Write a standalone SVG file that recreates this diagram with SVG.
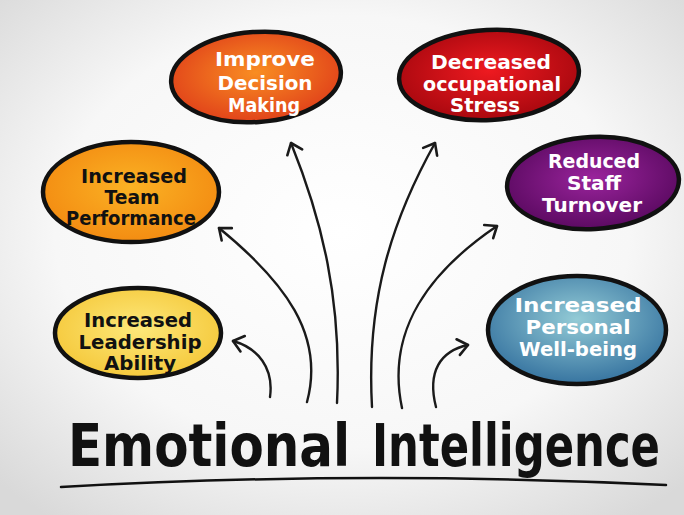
<svg xmlns="http://www.w3.org/2000/svg" width="684" height="515" viewBox="0 0 684 515">
<defs>
<radialGradient id="bg" cx="50%" cy="45%" r="70%">
<stop offset="0" stop-color="#ffffff"/><stop offset="0.6" stop-color="#f7f7f7"/><stop offset="1" stop-color="#d9d9d9"/>
</radialGradient>
<radialGradient id="gOrange" cx="50%" cy="45%" r="55%"><stop offset="0" stop-color="#f98d22"/><stop offset="1" stop-color="#e1431a"/></radialGradient>
<radialGradient id="gRed" cx="50%" cy="45%" r="55%"><stop offset="0" stop-color="#ee1a20"/><stop offset="1" stop-color="#a9080f"/></radialGradient>
<radialGradient id="gAmber" cx="50%" cy="45%" r="55%"><stop offset="0" stop-color="#fbb224"/><stop offset="1" stop-color="#f38c12"/></radialGradient>
<radialGradient id="gPurple" cx="50%" cy="45%" r="55%"><stop offset="0" stop-color="#9a249c"/><stop offset="1" stop-color="#5c0a62"/></radialGradient>
<radialGradient id="gYellow" cx="50%" cy="45%" r="55%"><stop offset="0" stop-color="#fde87a"/><stop offset="1" stop-color="#f5c93c"/></radialGradient>
<radialGradient id="gBlue" cx="50%" cy="40%" r="58%"><stop offset="0" stop-color="#93cbd6"/><stop offset="1" stop-color="#3a77a2"/></radialGradient>
<marker id="arr" viewBox="-12 -10 14 20" markerWidth="14" markerHeight="20" refX="0" refY="0" orient="auto" markerUnits="userSpaceOnUse">
<path d="M-10,-8 L0,0 L-10,8" fill="none" stroke="#1a1a1a" stroke-width="2.6" stroke-linecap="round" stroke-linejoin="round"/>
</marker>
<style>
.bubble{stroke:#111;stroke-width:4.5}
.lbl{font-family:"DejaVu Sans","Liberation Sans",sans-serif;font-size:19px;font-weight:bold;text-anchor:middle}
.w{fill:#fff}
.k{fill:#111}
.conn path{fill:none;stroke:#1a1a1a;stroke-width:2.4;stroke-linecap:round;marker-end:url(#arr)}
.title{font-family:"DejaVu Sans","Liberation Sans",sans-serif;font-size:58px;font-weight:bold;fill:#111}
</style>
</defs>
<rect width="684" height="515" fill="url(#bg)"/>

<g id="node-decision">
<ellipse class="bubble" cx="256" cy="77" rx="85" ry="45" fill="url(#gOrange)" transform="rotate(-4 256 77)"/>
<text class="lbl w" x="265" y="66" textLength="100" lengthAdjust="spacingAndGlyphs">Improve</text>
<text class="lbl w" x="265" y="90" textLength="95" lengthAdjust="spacingAndGlyphs">Decision</text>
<text class="lbl w" x="264" y="112" textLength="72" lengthAdjust="spacingAndGlyphs">Making</text>
</g>

<g id="node-stress">
<ellipse class="bubble" cx="489" cy="75" rx="90" ry="45" fill="url(#gRed)" transform="rotate(-3 489 75)"/>
<text class="lbl w" x="491" y="69" textLength="120" lengthAdjust="spacingAndGlyphs">Decreased</text>
<text class="lbl w" x="492" y="91" textLength="138" lengthAdjust="spacingAndGlyphs">occupational</text>
<text class="lbl w" x="485" y="112" textLength="70" lengthAdjust="spacingAndGlyphs">Stress</text>
</g>

<g id="node-team">
<ellipse class="bubble" cx="131" cy="192" rx="88" ry="50" fill="url(#gAmber)"/>
<text class="lbl k" x="134" y="183" textLength="106" lengthAdjust="spacingAndGlyphs">Increased</text>
<text class="lbl k" x="132" y="204" textLength="55" lengthAdjust="spacingAndGlyphs">Team</text>
<text class="lbl k" x="131" y="225" textLength="130" lengthAdjust="spacingAndGlyphs">Performance</text>
</g>

<g id="node-staff">
<ellipse class="bubble" cx="593" cy="183" rx="86" ry="46" fill="url(#gPurple)" transform="rotate(-3 593 183)"/>
<text class="lbl w" x="594" y="168" textLength="92" lengthAdjust="spacingAndGlyphs">Reduced</text>
<text class="lbl w" x="594" y="190" textLength="54" lengthAdjust="spacingAndGlyphs">Staff</text>
<text class="lbl w" x="592" y="212" textLength="100" lengthAdjust="spacingAndGlyphs">Turnover</text>
</g>

<g id="node-leadership">
<ellipse class="bubble" cx="138" cy="333" rx="83" ry="45" fill="url(#gYellow)"/>
<text class="lbl k" x="138" y="327" textLength="108" lengthAdjust="spacingAndGlyphs">Increased</text>
<text class="lbl k" x="140" y="349" textLength="123" lengthAdjust="spacingAndGlyphs">Leadership</text>
<text class="lbl k" x="140" y="370" textLength="72" lengthAdjust="spacingAndGlyphs">Ability</text>
</g>

<g id="node-wellbeing">
<ellipse class="bubble" cx="577" cy="330" rx="89" ry="54" fill="url(#gBlue)"/>
<text class="lbl w" x="578" y="312" textLength="127" lengthAdjust="spacingAndGlyphs">Increased</text>
<text class="lbl w" x="578" y="334" textLength="105" lengthAdjust="spacingAndGlyphs">Personal</text>
<text class="lbl w" x="578" y="356" textLength="118" lengthAdjust="spacingAndGlyphs">Well-being</text>
</g>

<g id="connectors" class="conn">
<path d="M270,397 C274,368 258,348 233,341"/>
<path d="M307,402 C325,335 285,282 219,228"/>
<path d="M337,403 C342,300 322,220 291,143"/>
<path d="M372,407 C366,300 392,220 435,143"/>
<path d="M402,408 C385,328 432,270 497,226"/>
<path d="M436,407 C427,372 440,351 468,345"/>
</g>

<g id="title">
<text class="title" x="0" y="0" transform="translate(68,466) scale(0.85,1)" textLength="332" lengthAdjust="spacingAndGlyphs">Emotional</text>
<text class="title" x="0" y="0" transform="translate(372,466) scale(0.75,1)" textLength="384" lengthAdjust="spacingAndGlyphs">Intelligence</text>
<path d="M61,487 Q360,470 666,485" fill="none" stroke="#111" stroke-width="2.5" stroke-linecap="round"/>
</g>
</svg>
